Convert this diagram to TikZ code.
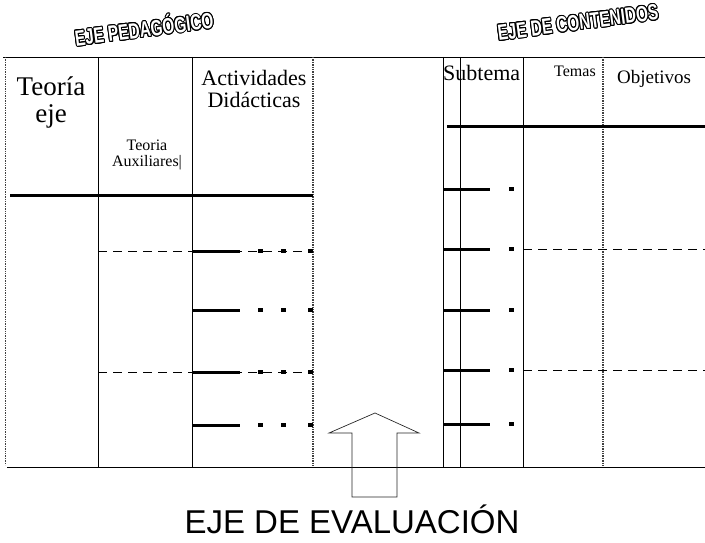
\documentclass[tikz,border=0pt]{standalone}
\usepackage{fontspec}
\setmainfont{Liberation Serif}
\setsansfont{Liberation Sans}
\newfontfamily\wordart[FakeStretch=0.7]{Liberation Sans Bold}
\usepackage{contour}
\contourlength{1pt}
\contournumber{16}

\begin{document}
\begin{tikzpicture}[
		x=1pt, y=-1pt,
		rule/.style={line width=0.9pt},
		dotrule/.style={line width=1.4pt, densely dotted, black!75},
		heavy/.style={line width=3pt},
		dashrule/.style={line width=1pt, dash pattern=on 9pt off 6pt},
		head/.style={font=\fontsize{#1}{#1}\selectfont, inner sep=0pt, align=center},
		axis/.style={font=\wordart\fontsize{22}{22}\selectfont, rotate=7.5, inner sep=0pt}
	]
	\useasboundingbox (0,0) rectangle (705,543);

	\draw[rule] (3,57) -- (705,57);
	\draw[rule] (7,467) -- (705,467);
	\draw[dotrule, line width=1pt] (5,57) -- (5,465);
	\foreach \x in {98,192,443,460,523}
		\draw[rule] (\x,57) -- (\x,467);
	\draw[dotrule] (313,57) -- (313,467);
	\draw[dotrule] (603,57) -- (603,467);

	\draw[heavy] (10,195) -- (313,195);
	\draw[heavy] (447,127) -- (705,127);
	\foreach \y in {251,372} {
		\draw[dashrule] (98,\y) -- (313,\y);
		\draw[dashrule] (523,\y-2) -- (705,\y-2);
	}
	\foreach \y in {251,310,372,425} {
		\draw[heavy] (192,\y) -- (240,\y);
		\foreach \x in {260,283,310}
			\fill (\x-2.5,\y-2) rectangle +(5,4);
	}
	\foreach \y in {189,249,310,370,424} {
		\draw[heavy] (443,\y) -- (490,\y);
		\fill (508.5,\y-2) rectangle +(5,4);
	}

	\draw[line width=0.7pt, black!85] (352,497) -- (352,433) -- (329,433) -- (375,413)
		-- (419,433) -- (397,433) -- (397,497) -- cycle;

	\node[axis] (ejeped) at (144,28) {\contour{black}{\textcolor{white}{EJE PEDAGÓGICO}}};
	\node[axis] (ejecont) at (578,23) {\contour{black}{\textcolor{white}{EJE DE CONTENIDOS}}};

	\node[head=27] (teoriaeje) at (51,102) {Teoría\\eje};
	\node[head=16] (teoriaaux) at (147,155) {Teoria\\Auxiliares\textbar};
	\node[head=22] (actividades) at (254,89) {Actividades\\Didácticas};
	\node[head=22, anchor=base west] (subtema) at (443,81) {Subtema};
	\node[head=16, anchor=base west] (temas) at (554,77) {Temas};
	\node[head=19, anchor=base west] (objetivos) at (617,84) {Objetivos};
	\node[inner sep=0pt, anchor=base, font=\sffamily\fontsize{33}{33}\selectfont] (evaluacion) at (352,533) {EJE DE EVALUACIÓN};
\end{tikzpicture}
\end{document}
